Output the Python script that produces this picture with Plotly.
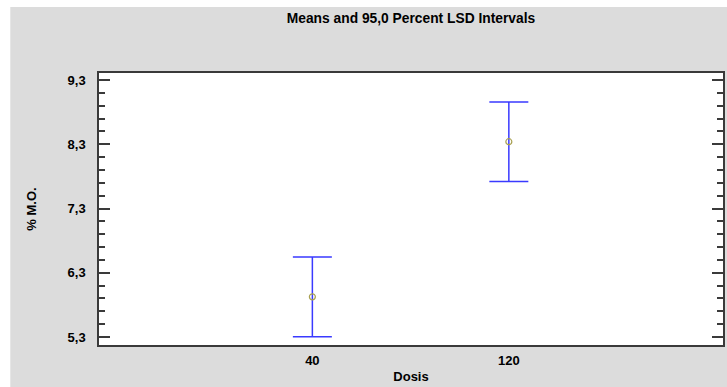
import plotly.graph_objects as go

# Dose levels and mean % organic matter with 95% LSD half-widths
dosis = ["40", "120"]
means = [5.925, 8.34]
lsd_half = [0.62, 0.62]

x_pos = list(range(len(dosis)))

BG = "#dcdcdc"
FONT = "Liberation Sans, Arial, sans-serif"

fig = go.Figure()
fig.add_trace(go.Scatter(
    x=x_pos,
    y=means,
    mode="markers",
    marker=dict(symbol="circle-open", size=6, color="#a8a050", line=dict(width=1.2)),
    error_y=dict(type="data", array=lsd_half, visible=True,
                 color="#3a3aff", thickness=1.5, width=19.5),
    showlegend=False,
    hoverinfo="x+y",
))

fig.update_layout(
    width=727, height=387,
    margin=dict(l=99, r=2, t=73, b=42),
    paper_bgcolor=BG,
    plot_bgcolor="white",
    separators=",.",
    font=dict(family=FONT, size=13, color="black"),
    title=dict(text="<b>Means and 95,0 Percent LSD Intervals</b>",
               x=0.5, xref="paper", xanchor="center",
               y=1 - 18 / 387, yanchor="middle",
               font=dict(size=13.8)),
    xaxis=dict(
        range=[-1.086, 2.09],
        tickvals=x_pos, ticktext=[f"<b>{d}</b>" for d in dosis],
        ticks="", showgrid=False, zeroline=False,
        showline=True, linecolor="#3a3a3a", linewidth=1.5, mirror=True,
        title=dict(text="<b>Dosis</b>", standoff=5, font=dict(size=13)),
        ticklabelstandoff=3,
    ),
    yaxis=dict(
        range=[5.175, 9.41],
        tick0=5.3, dtick=1, tickformat=".1f",
        ticks="inside", ticklen=11, tickwidth=1.5, tickcolor="#3a3a3a",
        minor=dict(dtick=0.2, tick0=5.3, ticks="inside", ticklen=6,
                   tickwidth=1.5, tickcolor="#3a3a3a", showgrid=False),
        showgrid=False, zeroline=False,
        showline=True, linecolor="#3a3a3a", linewidth=1.5, mirror="allticks",
        tickfont=dict(size=13, weight="bold"),
        ticklabelstandoff=9,
        title=dict(text="<b>% M.O.</b>", standoff=28, font=dict(size=13)),
    ),
    shapes=[
        # white strips along the left and top edges of the canvas
        dict(type="rect", xref="paper", yref="paper", layer="below",
             x0=-0.2, x1=(10 - 99) / 626, y0=-0.3, y1=1.4,
             fillcolor="white", line=dict(width=0)),
        dict(type="rect", xref="paper", yref="paper", layer="below",
             x0=-0.2, x1=1.1, y0=1 + (73 - 7) / 272, y1=1.4,
             fillcolor="white", line=dict(width=0)),
    ],
)

fig.write_html("out.html")
